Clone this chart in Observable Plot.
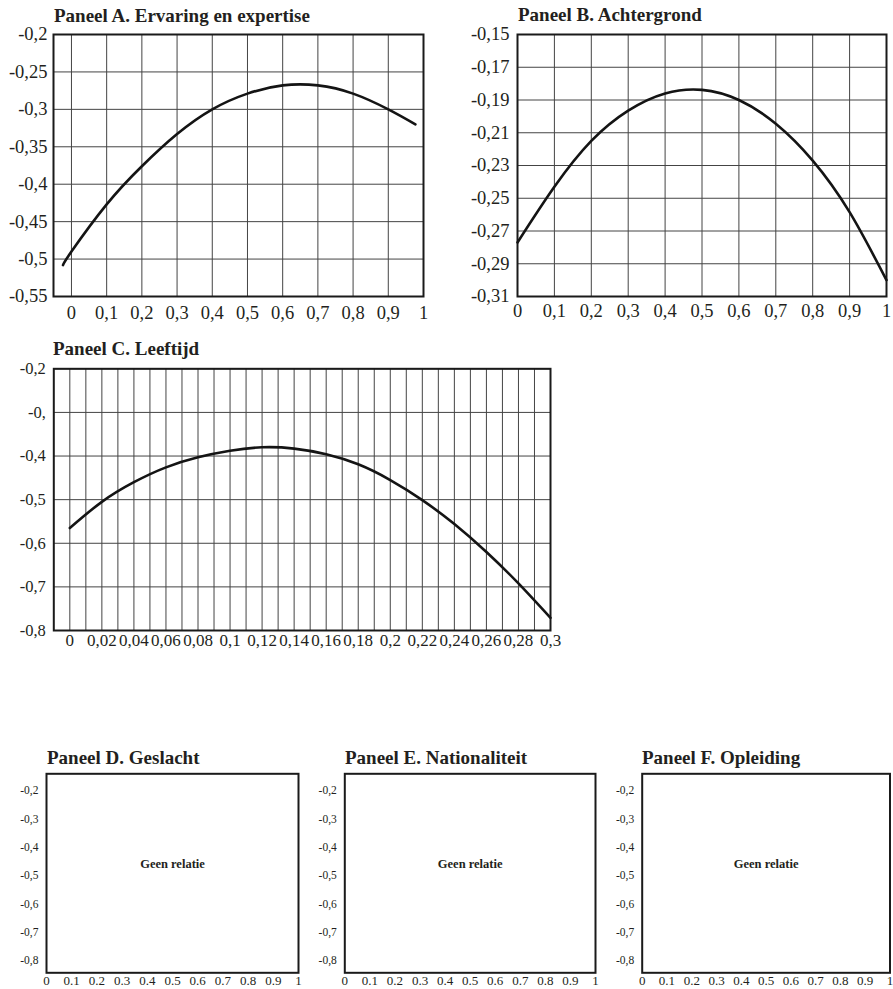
<!DOCTYPE html>
<html>
<head>
<meta charset="utf-8">
<script src="https://cdn.jsdelivr.net/npm/d3@7"></script>
<script src="https://cdn.jsdelivr.net/npm/@observablehq/plot@0.6"></script>
<style>
  body { margin: 0; background: #fff; }
  #root { position: relative; width: 893px; height: 989px; overflow: hidden; font-family: "Liberation Serif", serif; color: #231f20; }
  .title { position: absolute; font-weight: bold; font-size: 19px; line-height: 1; white-space: nowrap; z-index: 2; }
  .panel { position: absolute; z-index: 1; }
  .panel text { font-family: "Liberation Serif", serif; }
</style>
</head>
<body>
<div id="root"></div>
<script>
// ---------- Data ----------
// Panel A. Ervaring en expertise
const panelA_title = "Paneel A. Ervaring en expertise";
const panelA_x = [-0.024, 0, 0.1, 0.2, 0.3, 0.4, 0.5, 0.6, 0.7, 0.8, 0.9, 0.977];
const panelA_y = [-0.508, -0.490, -0.427, -0.376, -0.333, -0.300, -0.279, -0.268, -0.268, -0.279, -0.300, -0.320];
const panelA_yTicks = [-0.2, -0.25, -0.3, -0.35, -0.4, -0.45, -0.5, -0.55];
const panelA_yLabels = ["-0,2", "-0,25", "-0,3", "-0,35", "-0,4", "-0,45", "-0,5", "-0,55"];
const panelA_xTicks = [0, 0.1, 0.2, 0.3, 0.4, 0.5, 0.6, 0.7, 0.8, 0.9, 1];
const panelA_xLabels = ["0", "0,1", "0,2", "0,3", "0,4", "0,5", "0,6", "0,7", "0,8", "0,9", "1"];

// Panel B. Achtergrond
const panelB_title = "Paneel B. Achtergrond";
const panelB_x = [0, 0.1, 0.2, 0.3, 0.4, 0.5, 0.6, 0.7, 0.8, 0.9, 1];
const panelB_y = [-0.277, -0.243, -0.215, -0.1965, -0.186, -0.1838, -0.190, -0.2045, -0.227, -0.2585, -0.300];
const panelB_yTicks = [-0.15, -0.17, -0.19, -0.21, -0.23, -0.25, -0.27, -0.29, -0.31];
const panelB_yLabels = ["-0,15", "-0,17", "-0,19", "-0,21", "-0,23", "-0,25", "-0,27", "-0,29", "-0,31"];
const panelB_xTicks = [0, 0.1, 0.2, 0.3, 0.4, 0.5, 0.6, 0.7, 0.8, 0.9, 1];
const panelB_xLabels = ["0", "0,1", "0,2", "0,3", "0,4", "0,5", "0,6", "0,7", "0,8", "0,9", "1"];

// Panel C. Leeftijd
const panelC_title = "Paneel C. Leeftijd";
const panelC_x = [0, 0.02, 0.04, 0.06, 0.08, 0.1, 0.12, 0.14, 0.16, 0.18, 0.2, 0.22, 0.24, 0.26, 0.28, 0.3];
const panelC_y = [-0.565, -0.505, -0.460, -0.426, -0.403, -0.388, -0.380, -0.383, -0.396, -0.419, -0.455, -0.501, -0.556, -0.620, -0.692, -0.771];
const panelC_yTicks = [-0.2, -0.3, -0.4, -0.5, -0.6, -0.7, -0.8];
const panelC_yLabels = ["-0,2", "-0,", "-0,4", "-0,5", "-0,6", "-0,7", "-0,8"];
const panelC_xTicks = [0, 0.02, 0.04, 0.06, 0.08, 0.1, 0.12, 0.14, 0.16, 0.18, 0.2, 0.22, 0.24, 0.26, 0.28, 0.3];
const panelC_xLabels = ["0", "0,02", "0,04", "0,06", "0,08", "0,1", "0,12", "0,14", "0,16", "0,18", "0,2", "0,22", "0,24", "0,26", "0,28", "0,3"];
const panelC_xGrid = [0, 0.01, 0.02, 0.03, 0.04, 0.05, 0.06, 0.07, 0.08, 0.09, 0.1, 0.11, 0.12, 0.13, 0.14, 0.15,
                      0.16, 0.17, 0.18, 0.19, 0.2, 0.21, 0.22, 0.23, 0.24, 0.25, 0.26, 0.27, 0.28, 0.29];

// Panels D, E, F (no relation)
const smallTitles = ["Paneel D. Geslacht", "Paneel E. Nationaliteit", "Paneel F. Opleiding"];
const smallNote = "Geen relatie";
const small_yTicks = [-0.2, -0.3, -0.4, -0.5, -0.6, -0.7, -0.8];
const small_yLabels = ["-0,2", "-0,3", "-0,4", "-0,5", "-0,6", "-0,7", "-0,8"];
const small_xTicks = [0, 0.1, 0.2, 0.3, 0.4, 0.5, 0.6, 0.7, 0.8, 0.9, 1];
const small_xLabels = ["0", "0.1", "0.2", "0.3", "0.4", "0.5", "0.6", "0.7", "0.8", "0.9", "1"];

// ---------- Rendering ----------
const root = document.getElementById("root");
const FONT = "Liberation Serif";
const INK = "#231f20";

function fmt(ticks, labels) {
  const m = new Map(ticks.map((t, i) => [t, labels[i]]));
  return d => m.get(d);
}

function addTitle(text, left, top) {
  const t = document.createElement("div");
  t.className = "title";
  t.textContent = text;
  t.style.left = left + "px";
  t.style.top = top + "px";
  root.appendChild(t);
}

function panel(cfg) {
  const marks = [];
  if (cfg.xGrid) marks.push(Plot.ruleX(cfg.xGrid, {stroke: "#444", strokeWidth: 1}));
  if (cfg.yGrid) marks.push(Plot.ruleY(cfg.yGrid, {stroke: "#444", strokeWidth: 1}));
  marks.push(Plot.frame({stroke: "#1a1a1a", strokeWidth: 2}));
  marks.push(Plot.axisX(cfg.xTicks, {
    tickSize: 0, tickPadding: cfg.xPad, tickFormat: fmt(cfg.xTicks, cfg.xLabels),
    fontSize: cfg.xFont, fontFamily: FONT, label: null, fill: INK
  }));
  marks.push(Plot.axisY(cfg.yTicks, {
    tickSize: 0, tickPadding: cfg.yPad, tickFormat: fmt(cfg.yTicks, cfg.yLabels),
    fontSize: cfg.yFont, fontFamily: FONT, label: null, fill: INK
  }));
  if (cfg.lx) {
    const data = cfg.lx.map((x, i) => ({x, y: cfg.ly[i]}));
    marks.push(Plot.line(data, {x: "x", y: "y", curve: "natural", stroke: "#141414", strokeWidth: 2.6}));
  }
  if (cfg.note) {
    marks.push(Plot.text([cfg.note], {frameAnchor: "middle", dy: -9, fontSize: 12.5, fontWeight: "bold", fontFamily: FONT, fill: INK}));
  }
  const svg = Plot.plot({
    width: cfg.width, height: cfg.height,
    marginLeft: cfg.ml, marginRight: cfg.mr, marginTop: cfg.mt, marginBottom: cfg.mb,
    x: {domain: cfg.xDomain},
    y: {domain: cfg.yDomain},
    style: {background: "transparent", color: INK, overflow: "visible"},
    marks
  });
  svg.setAttribute("font-family", FONT);
  svg.classList.add("panel");
  svg.style.left = cfg.left + "px";
  svg.style.top = cfg.top + "px";
  root.appendChild(svg);
}

// Panel A
addTitle(panelA_title, 54, 6);
panel({
  left: 0, top: 0, width: 440, height: 330, ml: 53, mr: 17, mt: 34, mb: 34,
  xDomain: [-0.051, 1], yDomain: [-0.55, -0.2],
  xGrid: panelA_xTicks, yGrid: panelA_yTicks,
  xTicks: panelA_xTicks, xLabels: panelA_xLabels, yTicks: panelA_yTicks, yLabels: panelA_yLabels,
  xPad: 9, yPad: 6, xFont: 18.5, yFont: 18.5,
  lx: panelA_x, ly: panelA_y
});

// Panel B
addTitle(panelB_title, 518, 5);
panel({
  left: 440, top: 0, width: 453, height: 330, ml: 77, mr: 7, mt: 34, mb: 34,
  xDomain: [0, 1], yDomain: [-0.31, -0.15],
  xGrid: panelB_xTicks, yGrid: panelB_yTicks,
  xTicks: panelB_xTicks, xLabels: panelB_xLabels, yTicks: panelB_yTicks, yLabels: panelB_yLabels,
  xPad: 7, yPad: 8, xFont: 18.5, yFont: 18.5,
  lx: panelB_x, ly: panelB_y
});

// Panel C
addTitle(panelC_title, 53, 339);
panel({
  left: 0, top: 330, width: 570, height: 330, ml: 53.3, mr: 20, mt: 38.3, mb: 30,
  xDomain: [-0.01, 0.3], yDomain: [-0.8, -0.2],
  xGrid: panelC_xGrid, yGrid: panelC_yTicks,
  xTicks: panelC_xTicks, xLabels: panelC_xLabels, yTicks: panelC_yTicks, yLabels: panelC_yLabels,
  xPad: 3, yPad: 8, xFont: 17, yFont: 16.5,
  lx: panelC_x, ly: panelC_y
});

// Panels D, E, F
const smallLayout = [
  {left: 0, ml: 46, mr: 2, titleLeft: 47},
  {left: 300, ml: 44.3, mr: 5, titleLeft: 345},
  {left: 593, ml: 48.7, mr: 3.5, titleLeft: 642}
];
smallTitles.forEach((title, i) => {
  const L = smallLayout[i];
  addTitle(title, L.titleLeft, 748);
  panel({
    left: L.left, top: 740, width: 300, height: 249, ml: L.ml, mr: L.mr, mt: 33.3, mb: 16.7,
    xDomain: [0, 1], yDomain: [-0.8435, -0.141],
    xTicks: small_xTicks, xLabels: small_xLabels, yTicks: small_yTicks, yLabels: small_yLabels,
    xPad: 3, yPad: 8, xFont: 13, yFont: 11.5,
    note: smallNote
  });
});
</script>
</body>
</html>
